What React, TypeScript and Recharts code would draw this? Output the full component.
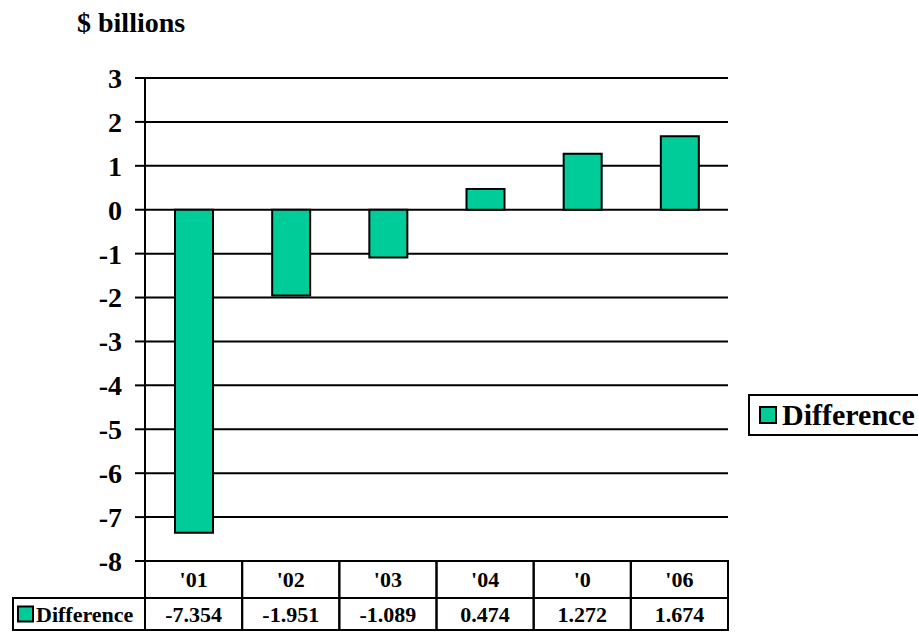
import React from 'react';
import { BarChart, Bar, XAxis, YAxis, CartesianGrid, Legend } from 'recharts';

const categories = ["'01", "'02", "'03", "'04", "'0", "'06"];
const differenceValues = [-7.354, -1.951, -1.089, 0.474, 1.272, 1.674];
const valueLabels = ['-7.354', '-1.951', '-1.089', '0.474', '1.272', '1.674'];
const yTicks = [-8, -7, -6, -5, -4, -3, -2, -1, 0, 1, 2, 3];
const seriesName = 'Difference';
const unitTitle = '$ billions';

const data = categories.map((c, i) => ({ cat: c, value: differenceValues[i] }));

const W = 918;
const H = 633;
const MARGIN = { top: 78, right: 190, bottom: 3, left: 85 };
const YAXIS_W = 60;
const XAXIS_H = 69;
const PLOT_LEFT = MARGIN.left + YAXIS_W;
const PLOT_W = W - MARGIN.right - PLOT_LEFT;
const FONT = '"Liberation Serif", "Times New Roman", serif';
const BAR_COLOR = '#00CC99';
const ROW1 = 37;
const ROW2 = 32;
const TABLE_LEFT = 13;

const TableTick = (props: any) => {
  const { x, y, payload } = props;
  const index = props.index ?? payload.index ?? 0;
  const bw = PLOT_W / categories.length;
  const left = x - bw / 2;
  const txt = { fontFamily: FONT, fontWeight: 'bold' as const, fill: '#000' };
  return (
    <g>
      <rect x={left} y={y} width={bw} height={ROW1} fill="none" stroke="#000" strokeWidth={2} />
      <rect x={left} y={y + ROW1} width={bw} height={ROW2} fill="none" stroke="#000" strokeWidth={2} />
      <text x={x} y={y + ROW1 / 2} textAnchor="middle" dominantBaseline="central" fontSize={22} {...txt}>
        {payload.value}
      </text>
      <text x={x} y={y + ROW1 + ROW2 / 2} textAnchor="middle" dominantBaseline="central" fontSize={22} {...txt}>
        {valueLabels[index]}
      </text>
      {index === 0 && (
        <g>
          <rect x={TABLE_LEFT} y={y + ROW1} width={left - TABLE_LEFT} height={ROW2} fill="none" stroke="#000" strokeWidth={2} />
          <rect x={TABLE_LEFT + 5} y={y + ROW1 + ROW2 / 2 - 7.5} width={15} height={15} fill={BAR_COLOR} stroke="#000" strokeWidth={2} />
          <text x={TABLE_LEFT + 23} y={y + ROW1 + ROW2 / 2} textAnchor="start" dominantBaseline="central" fontSize={22} {...txt}>
            {seriesName}
          </text>
        </g>
      )}
    </g>
  );
};

const LegendBox = () => (
  <div
    style={{
      boxSizing: 'border-box',
      width: 170,
      height: 42,
      borderTop: '2px solid #000',
      borderLeft: '2px solid #000',
      borderBottom: '2px solid #000',
      display: 'flex',
      alignItems: 'center',
      paddingLeft: 9,
      fontFamily: FONT,
      fontWeight: 'bold',
      fontSize: 30,
      color: '#000',
      whiteSpace: 'nowrap',
    }}
  >
    <span
      style={{
        display: 'inline-block',
        boxSizing: 'border-box',
        width: 18,
        height: 18,
        background: BAR_COLOR,
        border: '2px solid #000',
        marginRight: 5,
      }}
    />
    <span>{seriesName}</span>
  </div>
);

export default function App() {
  return (
    <div style={{ position: 'absolute', left: 0, top: 0, width: W, height: H, overflow: 'hidden', background: '#fff' }}>
      <div
        style={{
          position: 'absolute',
          left: 77,
          top: 9,
          fontFamily: FONT,
          fontWeight: 'bold',
          fontSize: 28,
          lineHeight: '28px',
          color: '#000',
          whiteSpace: 'nowrap',
        }}
      >
        {unitTitle}
      </div>
      <BarChart width={W} height={H} data={data} margin={MARGIN} barCategoryGap="30%">
        <CartesianGrid vertical={false} stroke="#000" strokeWidth={2} />
        <XAxis
          dataKey="cat"
          height={XAXIS_H}
          axisLine={false}
          tickLine={false}
          tickSize={0}
          tickMargin={0}
          interval={0}
          tick={<TableTick />}
        />
        <YAxis
          type="number"
          domain={[-8, 3]}
          ticks={yTicks}
          interval={0}
          width={YAXIS_W}
          axisLine={{ stroke: '#000', strokeWidth: 2 }}
          tickLine={{ stroke: '#000', strokeWidth: 2 }}
          tickSize={10}
          tickMargin={13}
          tick={{ fontSize: 28, fontWeight: 'bold', fill: '#000', fontFamily: FONT }}
        />
        <Legend
          layout="horizontal"
          align="center"
          verticalAlign="middle"
          wrapperStyle={{ left: 748, top: 394, width: 170, height: 42 }}
          content={<LegendBox />}
        />
        <Bar
          dataKey="value"
          name={seriesName}
          fill={BAR_COLOR}
          stroke="#000"
          strokeWidth={2}
          barSize={38}
          isAnimationActive={false}
        />
      </BarChart>
    </div>
  );
}
